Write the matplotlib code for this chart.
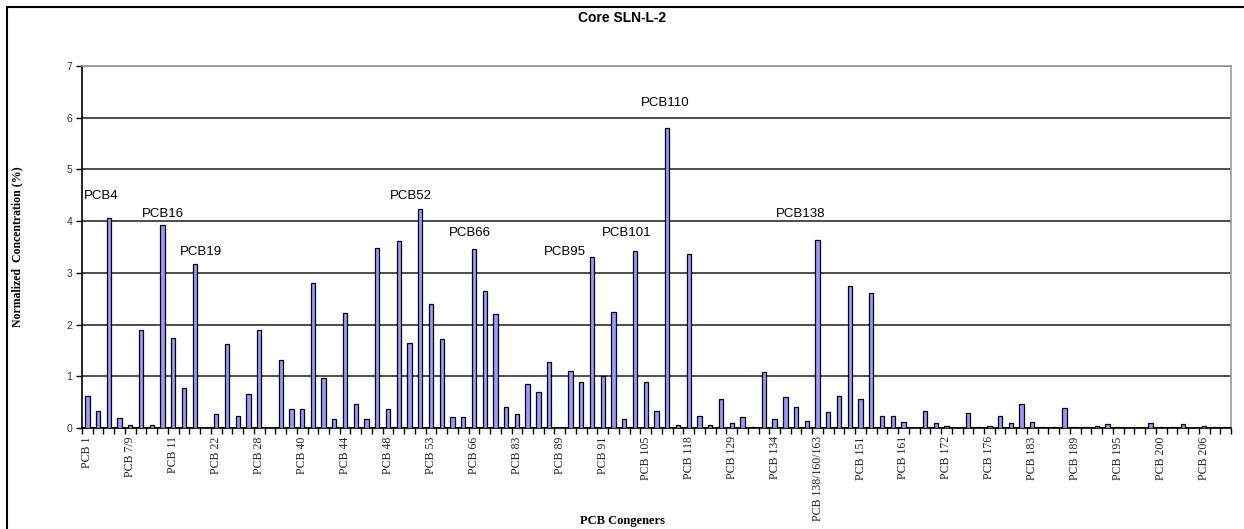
"""
Congener profile for core SLN-L-2: normalized PCB concentrations as a bar chart.
"""

import numpy as np
import matplotlib
matplotlib.use("Agg")
import matplotlib.pyplot as plt
from matplotlib.patches import Rectangle

# Normalized concentration (%) per congener slot, in elution order (nan = not detected)
concentration = [
    0.61, 0.32, 4.07, 0.19, 0.05, 1.90, 0.05, 3.93, 1.75, 0.78,
    3.18, np.nan, 0.27, 1.63, 0.24, 0.66, 1.90, np.nan, 1.31, 0.37,
    0.37, 2.81, 0.96, 0.17, 2.22, 0.46, 0.17, 3.48, 0.37, 3.61,
    1.65, 4.24, 2.39, 1.72, 0.21, 0.21, 3.47, 2.64, 2.20, 0.41,
    0.27, 0.86, 0.69, 1.28, np.nan, 1.10, 0.89, 3.30, 1.00, 2.25,
    0.17, 3.43, 0.89, 0.32, 5.80, 0.06, 3.36, 0.24, 0.06, 0.56,
    0.10, 0.21, 0.02, 1.08, 0.17, 0.59, 0.41, 0.14, 3.63, 0.30,
    0.61, 2.74, 0.57, 2.62, 0.24, 0.24, 0.12, np.nan, 0.32, 0.09,
    0.045, np.nan, 0.29, 0.02, 0.045, 0.24, 0.09, 0.46, 0.12, 0.015,
    0.015, 0.39, 0.015, 0.015, 0.045, 0.07, 0.02, np.nan, np.nan, 0.09,
    0.015, 0.015, 0.07, np.nan, 0.045, 0.015, 0.015,
]

# every fourth slot carries a name on the axis
axis_labels = [
    "PCB 1", "PCB 7/9", "PCB 11", "PCB 22", "PCB 28", "PCB 40", "PCB 44",
    "PCB 48", "PCB 53", "PCB 66", "PCB 83", "PCB 89", "PCB 91", "PCB 105",
    "PCB 118", "PCB 129", "PCB 134", "PCB 138/160/163", "PCB 151", "PCB 161",
    "PCB 172", "PCB 176", "PCB 183", "PCB 189", "PCB 195", "PCB 200", "PCB 206",
]

# callouts for the dominant congeners: (text, x slot, y)
callouts = [
    ("PCB4", -0.32, 4.48),
    ("PCB16", 5.08, 4.13),
    ("PCB19", 8.62, 3.40),
    ("PCB52", 28.18, 4.48),
    ("PCB66", 33.67, 3.78),
    ("PCB95", 42.51, 3.40),
    ("PCB101", 47.91, 3.78),
    ("PCB110", 51.55, 6.29),
    ("PCB138", 64.12, 4.13),
]

SERIF = "Liberation Serif"
SANS = "Liberation Sans"

values = np.array(concentration, dtype=float)
slots = np.arange(len(values))
found = ~np.isnan(values)

fig = plt.figure(figsize=(12.44, 5.29), dpi=100)
ax = fig.add_axes([82 / 1244, 1 - 428 / 529, (1231 - 82) / 1244, (428 - 66) / 529])

ax.bar(slots[found], values[found], width=0.4, color="#9999FF",
       edgecolor="black", linewidth=0.9, zorder=3)

ax.set_xlim(-0.5, len(values) - 0.5)
ax.set_ylim(0, 7)

# horizontal gridlines
ax.set_yticks(range(0, 8))
ax.yaxis.grid(True, color="#3f3f3f", linewidth=1.3, zorder=0)
ax.set_axisbelow(True)
ax.tick_params(axis="y", direction="out", length=4, width=1, color="black",
               labelsize=7.5, labelcolor="#333333", pad=3)
for lab in ax.get_yticklabels():
    lab.set_fontfamily(SANS)

# category names at slot centers, tick marks at slot boundaries
ax.set_xticks(slots[::4])
ax.set_xticklabels(axis_labels, rotation=90, fontsize=8.5, fontfamily=SERIF,
                   color="#222222")
ax.tick_params(axis="x", which="major", length=0, pad=6)
ax.set_xticks(np.arange(-0.5, len(values)), minor=True)
ax.tick_params(axis="x", which="minor", direction="out", length=4, width=1,
               color="black")

ax.spines["left"].set_color("black")
ax.spines["bottom"].set_color("black")
ax.spines["left"].set_linewidth(1.2)
ax.spines["bottom"].set_linewidth(1.2)
ax.spines["top"].set_color("#9a9a9a")
ax.spines["right"].set_color("#9a9a9a")
ax.spines["top"].set_linewidth(1.2)
ax.spines["right"].set_linewidth(1.2)

for text, x, y in callouts:
    ax.text(x, y, text, ha="left", va="center", fontsize=9.5,
            fontfamily=SANS, color="black", zorder=4)

ax.set_ylabel("Normalized  Concentration (%)", fontsize=8.5, fontweight="bold",
              fontfamily=SERIF)
ax.yaxis.set_label_coords(-0.051, 0.5)
fig.text(622 / 1244, 1 - 521 / 529, "PCB Congeners", ha="center", va="center",
         fontsize=9, fontweight="bold", fontfamily=SERIF)
fig.text(622 / 1244, 1 - 18 / 529, "Core SLN-L-2", ha="center", va="center",
         fontsize=10, fontweight="bold", fontfamily=SANS)

# chart frame
fig.patches.append(Rectangle((7 / 1244, -0.1), 1.2, 1.1 - 7 / 529,
                             transform=fig.transFigure, fill=False,
                             edgecolor="black", linewidth=1.5))

fig.savefig("out.png", dpi=100)
plt.close(fig)
